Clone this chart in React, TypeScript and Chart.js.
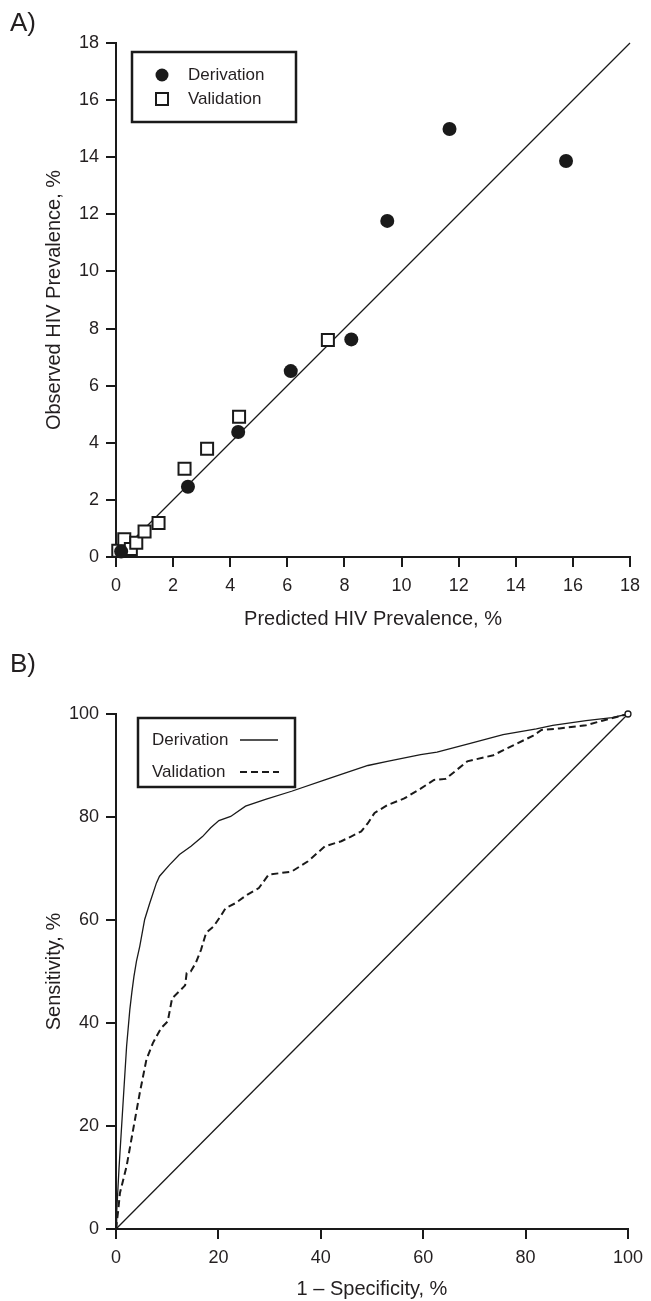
import React, { useEffect, useRef } from "react";
import { Chart, registerables } from "chart.js";

Chart.register(...registerables);

const FONT = "'Liberation Sans', Arial, Helvetica, sans-serif";
const TEXT = "#231f20";
const INK = "#1a1a1a";

// ---------- Panel A data ----------
const prevalenceTicks = [0, 2, 4, 6, 8, 10, 12, 14, 16, 18];
const derivationPredicted = [0.18, 2.52, 4.28, 6.12, 8.24, 9.5, 11.68, 15.76];
const derivationObserved = [0.19, 2.46, 4.38, 6.51, 7.62, 11.77, 14.99, 13.87];
const validationPredicted = [0.08, 0.29, 0.52, 0.71, 1.0, 1.49, 2.4, 3.19, 4.31, 7.42];
const validationObserved = [0.22, 0.62, 0.28, 0.5, 0.89, 1.19, 3.09, 3.79, 4.91, 7.6];
const identityA = [0, 18];

// ---------- Panel B data ----------
const rocTicks = [0, 20, 40, 60, 80, 100];
const rocDerivationFpr = [0, 0.13, 0.6, 1.1, 1.6, 2.07, 2.7, 3.1, 3.5, 4.0, 4.64, 5.6, 6.6, 7.9, 8.5, 10.45, 12.4, 14.65, 16.9, 18.5, 20.1, 22.4, 25.3, 29.2, 34.3, 40.8, 44.7, 49.2, 53, 59.5, 62.7, 69.2, 75.6, 82.1, 85.3, 91.8, 96.9, 100];
const rocDerivationTpr = [0, 3.2, 12, 20, 28, 35.5, 42.6, 46, 49, 52, 54.9, 60.1, 63.3, 67.2, 68.5, 70.7, 72.7, 74.3, 76.2, 77.9, 79.3, 80.1, 82.1, 83.4, 85.0, 87.2, 88.5, 90.0, 90.8, 92.1, 92.6, 94.3, 96.0, 97.1, 97.8, 98.7, 99.3, 100];
const rocValidationFpr = [0, 0.45, 0.77, 2.07, 3.35, 4.64, 5.94, 7.2, 8.8, 10.1, 10.96, 12.4, 13.5, 13.8, 14.6, 15.6, 16.6, 17.6, 19.1, 20.4, 21.4, 23.4, 25.6, 27.9, 29.8, 34.3, 37.5, 40.8, 44, 45.9, 47.9, 49.2, 50.5, 53.0, 56.3, 59.5, 62.1, 64.4, 68.6, 73.7, 76.3, 81.5, 83.1, 86.6, 91.8, 95.0, 100];
const rocValidationTpr = [0, 3.75, 7.0, 12.2, 19.3, 26.4, 32.9, 36.1, 39.0, 40.3, 44.8, 46.2, 47.3, 49.7, 50.0, 51.7, 54.2, 57.5, 58.8, 60.7, 62.3, 63.3, 64.9, 66.2, 68.8, 69.4, 71.4, 74.3, 75.3, 76.2, 77.2, 78.8, 80.8, 82.3, 83.6, 85.5, 87.2, 87.4, 90.8, 92.0, 93.3, 95.8, 96.9, 97.2, 97.8, 98.7, 100];
const identityB = [0, 100];

const toPoints = (xs: number[], ys: number[]) => xs.map((x, i) => ({ x, y: ys[i] }));

function makeAxis(
  ticks: number[],
  titleText: string,
  horizontal: boolean,
  fitSize: number,
  titlePad: any
) {
  return {
    type: "linear",
    position: horizontal ? "bottom" : "left",
    min: ticks[0],
    max: ticks[ticks.length - 1],
    afterBuildTicks: (scale: any) => {
      scale.ticks = ticks.map((v) => ({ value: v }));
    },
    afterFit: (scale: any) => {
      if (horizontal) scale.height = fitSize;
      else scale.width = fitSize;
    },
    ticks: {
      color: TEXT,
      font: { family: FONT, size: 18 },
      padding: horizontal ? 8 : 7,
      autoSkip: false,
      maxRotation: 0,
      minRotation: 0,
    },
    grid: {
      display: true,
      drawOnChartArea: false,
      drawTicks: true,
      tickLength: 10,
      lineWidth: 2,
      color: INK,
    },
    border: { display: true, width: 2, color: INK },
    title: {
      display: true,
      text: titleText,
      color: TEXT,
      font: { family: FONT, size: 20 },
      padding: titlePad,
    },
  };
}

function legendPlugin(id: string, draw: (ctx: CanvasRenderingContext2D) => void) {
  return {
    id,
    afterDraw(chart: any) {
      const ctx = chart.ctx as CanvasRenderingContext2D;
      ctx.save();
      draw(ctx);
      ctx.restore();
    },
  };
}

function PanelA() {
  const ref = useRef<HTMLCanvasElement | null>(null);
  useEffect(() => {
    if (!ref.current) return;
    const legend = legendPlugin("legendA", (ctx) => {
      ctx.strokeStyle = INK;
      ctx.lineWidth = 2.5;
      ctx.strokeRect(132, 52, 164, 70);
      ctx.fillStyle = INK;
      ctx.beginPath();
      ctx.arc(162, 75, 6.5, 0, Math.PI * 2);
      ctx.fill();
      ctx.lineWidth = 2;
      ctx.fillStyle = "#fff";
      ctx.fillRect(156, 93, 12, 12);
      ctx.strokeRect(156, 93, 12, 12);
      ctx.fillStyle = TEXT;
      ctx.font = `17px ${FONT}`;
      ctx.textBaseline = "middle";
      ctx.textAlign = "left";
      ctx.fillText("Derivation", 188, 75);
      ctx.fillText("Validation", 188, 99);
    });
    const chart = new Chart(ref.current, {
      type: "scatter",
      data: {
        datasets: [
          {
            label: "Derivation",
            data: toPoints(derivationPredicted, derivationObserved),
            pointStyle: "circle",
            pointRadius: 7,
            pointBackgroundColor: INK,
            pointBorderColor: INK,
            pointBorderWidth: 0,
            clip: false,
            order: 1,
          },
          {
            label: "Validation",
            data: toPoints(validationPredicted, validationObserved),
            pointStyle: "rect",
            pointRadius: 8.5,
            pointBackgroundColor: "#fff",
            pointBorderColor: INK,
            pointBorderWidth: 2,
            clip: false,
            order: 2,
          },
          {
            label: "Identity",
            data: toPoints(identityA, identityA),
            showLine: true,
            borderColor: INK,
            borderWidth: 1.3,
            pointRadius: 0,
            clip: false,
            order: 3,
          },
        ],
      } as any,
      options: {
        animation: false,
        responsive: false,
        maintainAspectRatio: false,
        events: [],
        layout: { padding: { top: 43, right: 21, left: 0, bottom: 0 } },
        plugins: { legend: { display: false }, tooltip: { enabled: false } },
        scales: {
          x: makeAxis(prevalenceTicks, "Predicted HIV Prevalence, %", true, 93, { top: 0, bottom: 19 }),
          y: makeAxis(prevalenceTicks, "Observed HIV Prevalence, %", false, 116, { top: 42, bottom: 0 }),
        } as any,
      },
      plugins: [legend as any],
    });
    return () => chart.destroy();
  }, []);
  return <canvas ref={ref} width={651} height={650} style={{ position: "absolute", left: 0, top: 0 }} />;
}

function PanelB() {
  const ref = useRef<HTMLCanvasElement | null>(null);
  useEffect(() => {
    if (!ref.current) return;
    const legend = legendPlugin("legendB", (ctx) => {
      ctx.strokeStyle = INK;
      ctx.lineWidth = 2.5;
      ctx.strokeRect(138, 68, 157, 69);
      ctx.fillStyle = TEXT;
      ctx.font = `17px ${FONT}`;
      ctx.textBaseline = "middle";
      ctx.textAlign = "left";
      ctx.fillText("Derivation", 152, 90);
      ctx.fillText("Validation", 152, 122);
      ctx.strokeStyle = INK;
      ctx.lineWidth = 1.3;
      ctx.beginPath();
      ctx.moveTo(240, 90);
      ctx.lineTo(278, 90);
      ctx.stroke();
      ctx.lineWidth = 2;
      ctx.setLineDash([7, 4]);
      ctx.beginPath();
      ctx.moveTo(240, 122);
      ctx.lineTo(279, 122);
      ctx.stroke();
    });
    const lastIdx = rocDerivationFpr.length - 1;
    const chart = new Chart(ref.current, {
      type: "scatter",
      data: {
        datasets: [
          {
            label: "Derivation",
            data: toPoints(rocDerivationFpr, rocDerivationTpr),
            showLine: true,
            borderColor: INK,
            borderWidth: 1.3,
            pointRadius: (c: any) => (c.dataIndex === lastIdx ? 3 : 0),
            pointBackgroundColor: "#fff",
            pointBorderColor: INK,
            pointBorderWidth: 1.3,
            tension: 0,
            clip: false,
            order: 1,
          },
          {
            label: "Validation",
            data: toPoints(rocValidationFpr, rocValidationTpr),
            showLine: true,
            borderColor: INK,
            borderWidth: 2,
            borderDash: [7, 4],
            pointRadius: 0,
            tension: 0,
            clip: false,
            order: 2,
          },
          {
            label: "Chance",
            data: toPoints(identityB, identityB),
            showLine: true,
            borderColor: INK,
            borderWidth: 1.3,
            pointRadius: 0,
            clip: false,
            order: 3,
          },
        ],
      } as any,
      options: {
        animation: false,
        responsive: false,
        maintainAspectRatio: false,
        events: [],
        layout: { padding: { top: 64, right: 18, left: 0, bottom: 0 } },
        plugins: { legend: { display: false }, tooltip: { enabled: false } },
        scales: {
          x: makeAxis(rocTicks, "1 – Specificity, %", true, 72, { top: 0, bottom: 0 }),
          y: makeAxis(rocTicks, "Sensitivity, %", false, 116, { top: 42, bottom: 0 }),
        } as any,
      },
      plugins: [legend as any],
    });
    return () => chart.destroy();
  }, []);
  return <canvas ref={ref} width={651} height={651} style={{ position: "absolute", left: 0, top: 650 }} />;
}

const labelStyle: React.CSSProperties = {
  position: "absolute",
  left: 10,
  fontFamily: FONT,
  fontSize: 26,
  lineHeight: "26px",
  color: TEXT,
  margin: 0,
};

export default function App() {
  return (
    <div
      style={{
        position: "absolute",
        left: 0,
        top: 0,
        width: 651,
        height: 1301,
        background: "#fff",
        overflow: "hidden",
      }}
    >
      <PanelA />
      <PanelB />
      <div style={{ ...labelStyle, top: 9 }}>A)</div>
      <div style={{ ...labelStyle, top: 650 }}>B)</div>
    </div>
  );
}
